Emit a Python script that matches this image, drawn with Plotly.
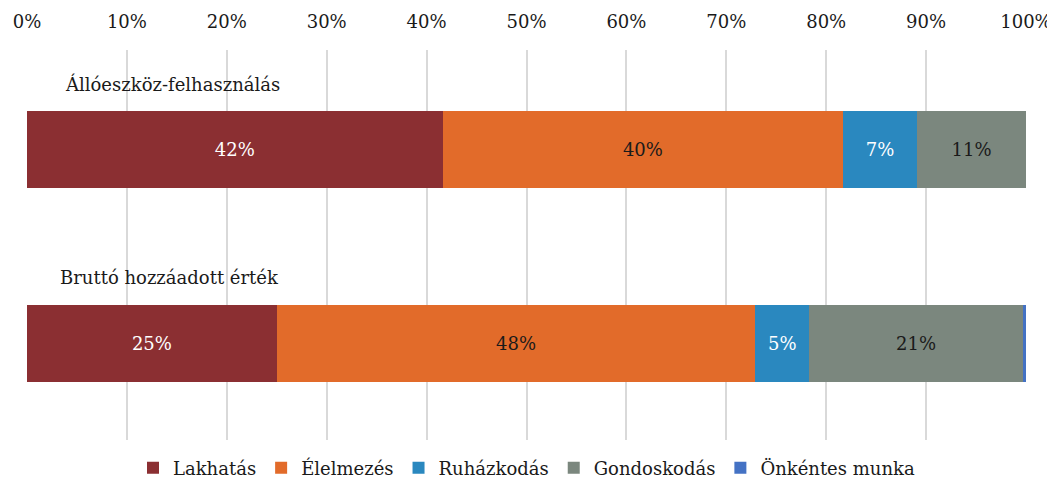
import plotly.graph_objects as go

categories = ["Állóeszköz-felhasználás", "Bruttó hozzáadott érték"]
series_names = ["Lakhatás", "Élelmezés", "Ruházkodás", "Gondoskodás", "Önkéntes munka"]
lakhatas = [41.6, 25.0]
elelmezes = [40.1, 47.9]
ruhazkodas = [7.4, 5.4]
gondoskodas = [10.9, 21.4]
onkentes = [0.0, 0.3]
colors = ["#8B2F32", "#E26B2A", "#2A88BF", "#7B877E", "#4472C4"]
label_colors = ["white", "#1a1a1a", "white", "#1a1a1a", "white"]
tick_vals = list(range(0, 101, 10))
tick_text = [f"{v}%" for v in tick_vals]

FONT = "DejaVu Serif"
FS = 18
series = [lakhatas, elelmezes, ruhazkodas, gondoskodas, onkentes]
ypos = list(range(len(categories)))

fig = go.Figure()
for name, vals, col, lc in zip(series_names, series, colors, label_colors):
    fig.add_trace(go.Bar(
        name=name, x=vals, y=ypos, orientation="h",
        marker=dict(color=col, line=dict(width=0)),
        width=0.397,
        text=[f"{round(v)}%" if v >= 1 else "" for v in vals],
        textposition="inside", insidetextanchor="middle",
        textfont=dict(family=FONT, size=FS, color=lc),
        hoverinfo="x+name",
    ))

for i, cat in enumerate(categories):
    fig.add_annotation(x=0, y=i, xref="x", yref="y", text=cat, showarrow=False,
                       xanchor="left", yanchor="middle", xshift=(36 if i == 0 else 31), yshift=66,
                       font=dict(family=FONT, size=FS, color="#1a1a1a"))

# page body has an 8px margin; compensate so the plot lands where the reference has it
fig.update_layout(
    barmode="stack",
    width=1047, height=473,
    margin=dict(l=19, r=29, t=42, b=41, autoexpand=False),
    paper_bgcolor="white", plot_bgcolor="white",
    font=dict(family=FONT, size=FS, color="#1a1a1a"),
    xaxis=dict(side="top", range=[0, 100], tickvals=tick_vals, ticktext=tick_text,
               showgrid=True, gridcolor="#d9d9d9", gridwidth=2, zeroline=False,
               ticks="outside", ticklen=14, tickcolor="rgba(0,0,0,0)", automargin=False,
               tickfont=dict(family=FONT, size=FS, color="#1a1a1a"), fixedrange=True),
    yaxis=dict(range=[1.497, -0.513], showticklabels=False, showgrid=False, zeroline=False,
               fixedrange=True, automargin=False),
    legend=dict(orientation="h", x=0.5, xanchor="center", y=-0.072, yanchor="middle",
                font=dict(family=FONT, size=FS, color="#1a1a1a"), traceorder="normal",
                itemwidth=30),
    showlegend=True,
)

fig.write_html("out.html")
